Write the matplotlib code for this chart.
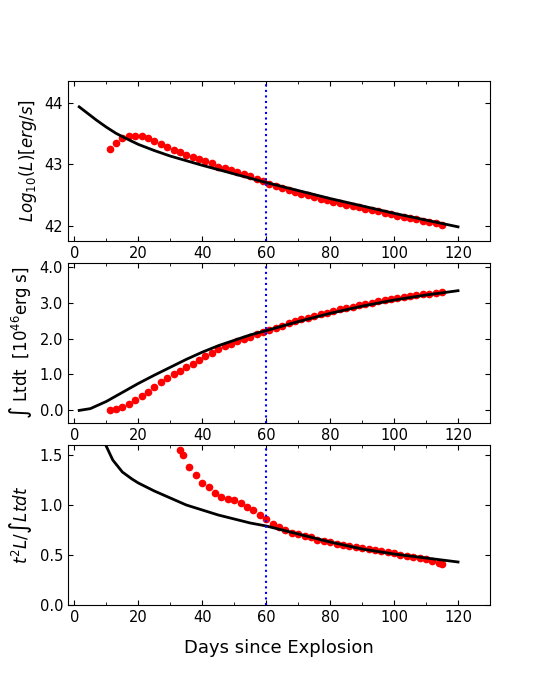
import matplotlib
matplotlib.use("Agg")
import matplotlib.pyplot as plt
import numpy as np
from matplotlib.ticker import MultipleLocator, FormatStrFormatter

d1 = list(range(11, 116, 2))
logL = [43.25,43.35,43.42,43.45,43.46,43.45,43.42,43.37,43.32,43.27,43.23,43.19,43.15,43.12,43.09,43.05,43.01,42.96,42.93,42.90,42.87,42.84,42.80,42.76,42.72,42.68,42.64,42.61,42.58,42.55,42.52,42.49,42.46,42.44,42.41,42.39,42.36,42.34,42.32,42.30,42.27,42.25,42.23,42.21,42.19,42.16,42.14,42.12,42.10,42.08,42.06,42.04,42.01]
mt1 = [1.5,3,5,7,10,13,16,20,25,30,40,50,60,70,80,90,100,110,120]
mL = [43.93,43.87,43.79,43.71,43.60,43.50,43.42,43.32,43.22,43.13,42.98,42.84,42.70,42.57,42.44,42.32,42.20,42.09,41.98]

integ = [0.0,0.04,0.1,0.18,0.28,0.4,0.52,0.65,0.78,0.9,1.0,1.1,1.2,1.3,1.4,1.5,1.6,1.7,1.78,1.85,1.92,1.98,2.05,2.12,2.18,2.24,2.3,2.36,2.42,2.48,2.53,2.58,2.63,2.68,2.72,2.77,2.81,2.85,2.89,2.93,2.97,3.0,3.03,3.06,3.09,3.12,3.15,3.18,3.2,3.23,3.25,3.27,3.29]
mt2 = [1.5,5,10,15,20,25,30,35,40,45,50,55,60,70,80,90,100,110,120]
mI = [0.0,0.05,0.25,0.5,0.75,0.98,1.2,1.42,1.62,1.8,1.95,2.1,2.22,2.47,2.7,2.9,3.07,3.21,3.33]

d3 = [33,34,36,38,40,42,44,46,48,50,52,54,56,58,60,62,64,66,68,70,72,74,76,78,80,82,84,86,88,90,92,94,96,98,100,102,104,106,108,110,112,114,115]
ratio = [1.55,1.5,1.38,1.3,1.22,1.18,1.12,1.08,1.06,1.05,1.02,0.98,0.95,0.9,0.86,0.81,0.78,0.75,0.72,0.71,0.69,0.68,0.65,0.64,0.63,0.61,0.6,0.59,0.58,0.57,0.56,0.55,0.54,0.53,0.52,0.5,0.49,0.48,0.47,0.46,0.44,0.42,0.41]
mt3 = [9.5,12,15,18,20,25,30,35,40,45,50,55,60,70,80,90,100,110,120]
mR = [1.62,1.45,1.33,1.26,1.22,1.14,1.07,1.0,0.95,0.9,0.86,0.82,0.79,0.71,0.63,0.56,0.51,0.47,0.43]

fig = plt.figure(figsize=(5.45, 6.81), dpi=100)
W, H = 545, 681
boxes = [(81, 241), (263, 423), (445, 605)]
axes = []
for (t, b) in boxes:
    axes.append(fig.add_axes([68/W, 1-b/H, (490-68)/W, (b-t)/H]))

data = [(d1, logL, mt1, mL), (d1, integ, mt2, mI), (d3, ratio, mt3, mR)]
for ax, (dx, dy, mx, my) in zip(axes, data):
    ax.plot(dx, dy, 'o', color='red', ms=4.5)
    ax.plot(mx, my, '-', color='black', lw=2)
    ax.axvline(60, color='blue', ls=':', lw=1.5)
    ax.set_xlim(-2, 130)
    ax.xaxis.set_major_locator(MultipleLocator(20))
    ax.xaxis.set_minor_locator(MultipleLocator(10))
    ax.tick_params(which='both', direction='in', top=True, right=True)
    ax.tick_params(labelsize=10.5)

axes[0].set_ylim(41.75, 44.35)
axes[0].yaxis.set_major_locator(MultipleLocator(1))
axes[0].set_ylabel(r'$Log_{10}(L)[erg/s]$', fontsize=12)
axes[1].set_ylim(-0.35, 4.1)
axes[1].yaxis.set_major_locator(MultipleLocator(1))
axes[1].yaxis.set_major_formatter(FormatStrFormatter('%.1f'))
axes[1].set_ylabel(r'$\int$ Ltdt  [10$^{46}$erg s]', fontsize=12)
axes[2].set_ylim(0, 1.6)
axes[2].yaxis.set_major_locator(MultipleLocator(0.5))
axes[2].set_ylabel(r'$t^2L/\int Ltdt$', fontsize=12)
axes[2].set_xlabel('Days since Explosion', fontsize=13, labelpad=10)
fig.savefig('out.png', dpi=100)
